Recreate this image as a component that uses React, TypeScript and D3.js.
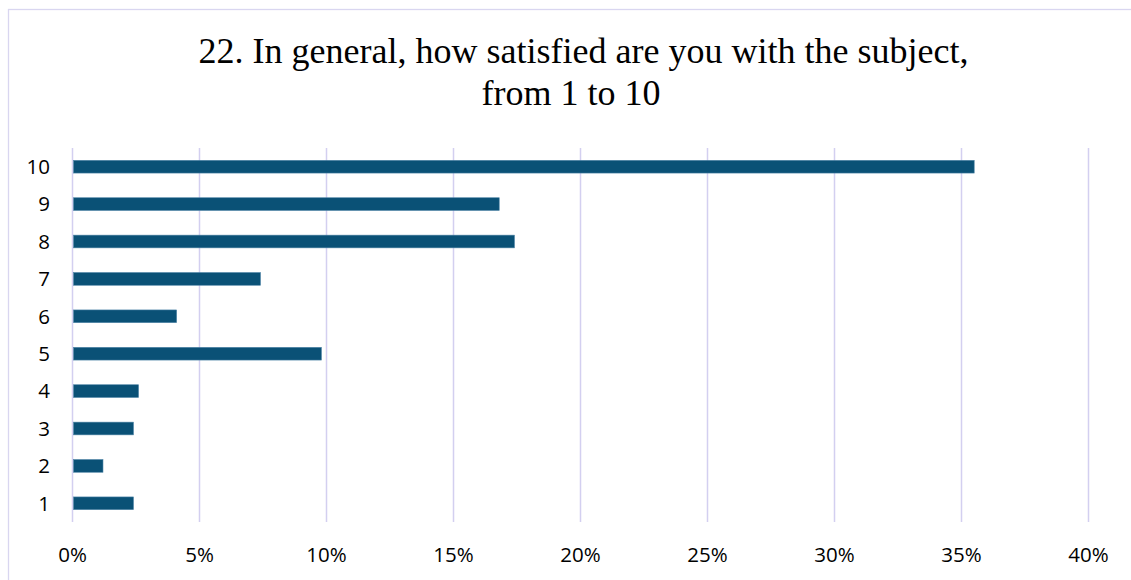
import React from "react";
import * as d3 from "d3";

const categories: string[] = ["10", "9", "8", "7", "6", "5", "4", "3", "2", "1"];
const shares: number[] = [0.355, 0.168, 0.174, 0.074, 0.041, 0.098, 0.026, 0.024, 0.012, 0.024];
const xTicks: number[] = [0, 0.05, 0.1, 0.15, 0.2, 0.25, 0.3, 0.35, 0.4];
const titleLines: string[] = ["22. In general, how satisfied are you with the subject,", "from 1 to 10"];

const W = 1131;
const H = 580;

export default function App() {
  const x = d3.scaleLinear().domain([0, 0.4]).range([72.5, 1088.5]);
  const y = d3
    .scaleBand<string>()
    .domain(categories)
    .range([148, 522])
    .paddingInner(0.66)
    .paddingOuter(0.33);
  const fmt = d3.format(".0%");
  const gridColor = "#d3cff0";

  return (
    <svg
      width={W}
      height={H}
      style={{ position: "absolute", left: 0, top: 0, background: "#fff" }}
    >
      <rect x={0} y={0} width={W} height={H} fill="#fff" />
      <rect
        x={8.5}
        y={9.5}
        width={W + 20}
        height={H + 20}
        fill="none"
        stroke="#d9d6f0"
        strokeWidth={1.3}
      />
      <g fontFamily="'Liberation Serif', 'Times New Roman', serif" fontSize={36} fill="#000">
        <text x={583.5} y={63} textAnchor="middle">
          {titleLines[0]}
        </text>
        <text x={571} y={105} textAnchor="middle">
          {titleLines[1]}
        </text>
      </g>
      <g>
        {xTicks.map((t) => (
          <line
            key={"g" + t}
            x1={x(t)}
            x2={x(t)}
            y1={148}
            y2={522}
            stroke={gridColor}
            strokeWidth={1.5}
          />
        ))}
      </g>
      <g>
        {categories.map((c, i) => (
          <rect
            key={c}
            x={x(0) + 1}
            y={y(c)}
            width={x(shares[i]) - x(0) - 1}
            height={y.bandwidth()}
            fill="#0a5176"
            stroke="#4d84a6"
            strokeWidth={0.6}
          />
        ))}
      </g>
      <g fontFamily="'Open Sans', sans-serif" fontSize={20.5} fill="#000">
        {categories.map((c) => (
          <text
            key={"l" + c}
            x={50}
            y={(y(c) as number) + y.bandwidth() / 2}
            dy="0.36em"
            textAnchor="end"
          >
            {c}
          </text>
        ))}
        {xTicks.map((t) => (
          <text key={"t" + t} x={x(t)} y={561.5} textAnchor="middle">
            {fmt(t)}
          </text>
        ))}
      </g>
    </svg>
  );
}
